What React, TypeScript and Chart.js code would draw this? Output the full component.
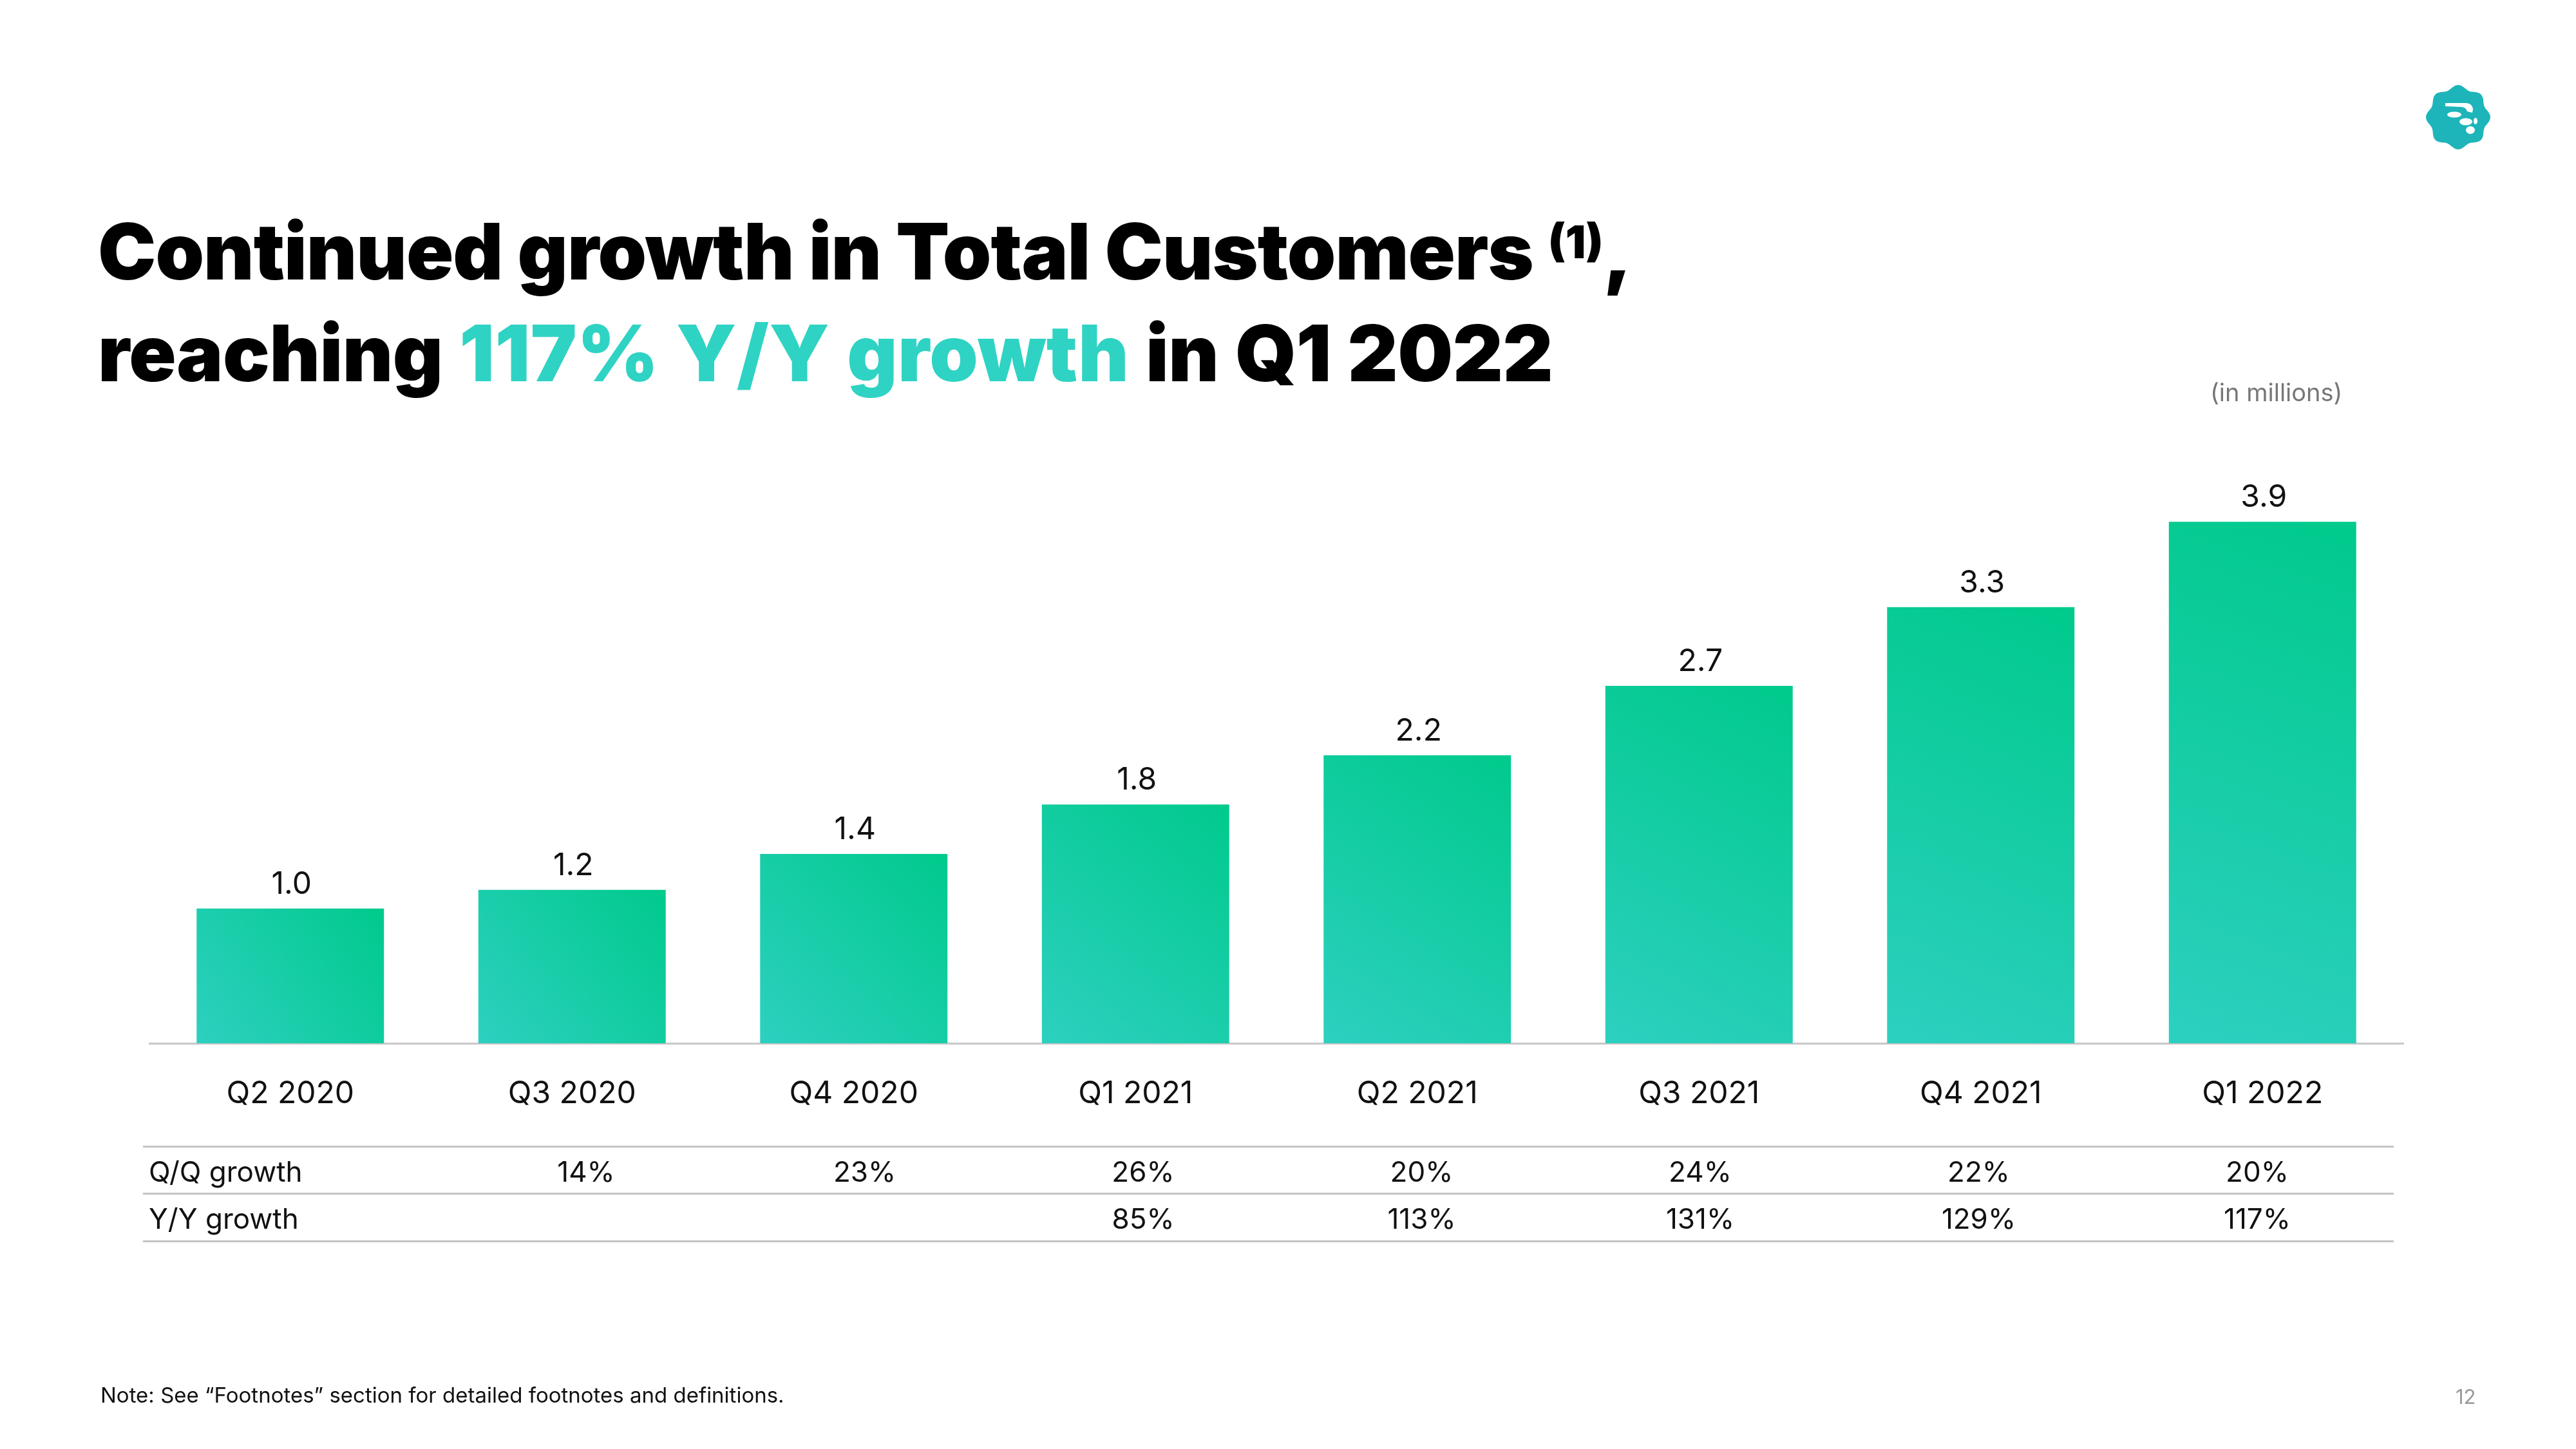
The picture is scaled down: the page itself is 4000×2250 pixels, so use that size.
import React, { useEffect, useRef } from "react";
import { Chart, registerables } from "chart.js";

Chart.register(...registerables);

// ---- Data ----
const categories = ["Q2 2020", "Q3 2020", "Q4 2020", "Q1 2021", "Q2 2021", "Q3 2021", "Q4 2021", "Q1 2022"];
const totalCustomers = [1.01, 1.15, 1.42, 1.79, 2.16, 2.68, 3.27, 3.91];
const customerLabels = ["1.0", "1.2", "1.4", "1.8", "2.2", "2.7", "3.3", "3.9"];
const tableRowLabels = ["Q/Q growth", "Y/Y growth"];
const qqGrowth = ["14%", "23%", "26%", "20%", "24%", "22%", "20%"];
const yyGrowth = ["", "", "85%", "113%", "131%", "129%", "117%"];

const TEAL = "#2fd3c3";
const BAR_BOTTOM = "#2dd0c0";
const BAR_TOP = "#00ca8c";
const BAR_PCT = 0.665;
const BODY_FONT = "Inter, 'Noto Sans', sans-serif";
const TITLE_FONT = "Inter, Roboto, sans-serif";

function barGradient(ctx: any) {
  const chart = ctx.chart;
  if (!chart.chartArea || ctx.dataIndex == null || !ctx.parsed) return BAR_TOP;
  const xs = chart.scales.x;
  const ys = chart.scales.y;
  const xc = xs.getPixelForValue(ctx.dataIndex);
  const half = ((xs.width / categories.length) * BAR_PCT) / 2;
  const top = ys.getPixelForValue(ctx.parsed.y);
  const base = ys.getPixelForValue(0);
  const g = chart.ctx.createLinearGradient(xc - half, base, xc + half, top);
  g.addColorStop(0, BAR_BOTTOM);
  g.addColorStop(1, BAR_TOP);
  return g;
}

const valueLabelPlugin = {
  id: "valueLabels",
  afterDatasetsDraw(chart: any) {
    const ctx = chart.ctx;
    ctx.save();
    ctx.font = "48px Inter";
    ctx.fillStyle = "#111111";
    ctx.textAlign = "center";
    ctx.textBaseline = "alphabetic";
    chart.getDatasetMeta(0).data.forEach((el: any, i: number) => {
      ctx.fillText(customerLabels[i], el.x + 2, el.y - 23);
    });
    ctx.restore();
  },
};

function Logo() {
  const pts: string[] = [];
  for (let i = 0; i <= 360; i += 2) {
    const a = (i * Math.PI) / 180;
    const r = 47 + 3 * Math.cos(8 * a);
    pts.push(`${(r * Math.cos(a)).toFixed(2)},${(r * Math.sin(a)).toFixed(2)}`);
  }
  return (
    <svg
      width={110}
      height={110}
      viewBox="-55 -55 110 110"
      style={{ position: "absolute", left: 3762, top: 127 }}
    >
      <polygon points={pts.join(" ")} fill="#1db5b9" />
      <path d="M-20,-22 L12,-22 Q22,-22 23,-12 L22,-7 L14,-9 Q12,-16 4,-16 L-20,-17 Z" fill="#fff" />
      <ellipse cx={-6} cy={-4} rx={11} ry={4.5} fill="#fff" />
      <ellipse cx={12} cy={7} rx={10} ry={5.5} fill="#fff" />
      <ellipse cx={27} cy={6} rx={3} ry={5} fill="#fff" />
      <ellipse cx={19} cy={20} rx={7} ry={6} fill="#fff" />
    </svg>
  );
}

export default function App() {
  const canvasRef = useRef<HTMLCanvasElement | null>(null);

  useEffect(() => {
    if (!canvasRef.current) return;
    const chart = new Chart(canvasRef.current, {
      type: "bar",
      data: {
        labels: categories,
        datasets: [
          {
            data: totalCustomers,
            backgroundColor: barGradient,
            borderWidth: 0,
            categoryPercentage: 1,
            barPercentage: BAR_PCT,
          },
        ],
      },
      options: {
        responsive: false,
        maintainAspectRatio: false,
        animation: false,
        layout: { padding: { left: 232, right: 268, top: 688, bottom: 527 } },
        plugins: { legend: { display: false }, tooltip: { enabled: false } },
        scales: {
          x: {
            grid: { display: false, drawTicks: false },
            border: { display: true, color: "#c8c8c8", width: 3 },
            ticks: { font: { family: "Inter", size: 48 }, color: "#111111", padding: 50 },
            afterFit: (s: any) => {
              s.height = 103;
            },
          },
          y: { display: false, min: 0, max: 4.5 },
        },
      },
      plugins: [valueLabelPlugin],
    });
    return () => chart.destroy();
  }, []);

  const colStart = 910;
  const colStep = 432.5;

  const line = (top: number) => (
    <div
      style={{ position: "absolute", left: 222, top: top - 1.5, width: 3495, height: 3, background: "#c4c4c4" }}
    />
  );

  const cellStyle = (x: number, top: number): React.CSSProperties => ({
    position: "absolute",
    left: x - 150,
    width: 300,
    top,
    textAlign: "center",
    font: `44px ${BODY_FONT}`,
    lineHeight: 1,
    color: "#111",
    whiteSpace: "nowrap",
  });

  const titleStyle = (top: number): React.CSSProperties => ({
    position: "absolute",
    left: 152,
    top,
    font: `900 121px ${TITLE_FONT}`,
    lineHeight: 1,
    letterSpacing: "-1px",
    color: "#000",
    whiteSpace: "nowrap",
  });

  return (
    <div
      style={{
        position: "absolute",
        left: 0,
        top: 0,
        width: 4000,
        height: 2250,
        background: "#ffffff",
        overflow: "hidden",
      }}
    >
      <canvas ref={canvasRef} width={4000} height={2250} style={{ position: "absolute", left: 0, top: 0 }} />

      <Logo />

      <div style={titleStyle(330)}>
        Continued growth in Total Customers{" "}
        <span style={{ fontSize: 70, fontWeight: 900, verticalAlign: 33, letterSpacing: 0 }}>(1)</span>,
      </div>
      <div style={{ ...titleStyle(488), letterSpacing: "-0.5px", wordSpacing: "2px" }}>
        reaching <span style={{ color: TEAL, letterSpacing: "0.5px" }}>117% Y/Y growth</span> in Q1 2022
      </div>

      <div
        style={{
          position: "absolute",
          left: 3432,
          top: 590,
          font: `38px ${BODY_FONT}`,
          lineHeight: 1,
          color: "#777",
          whiteSpace: "nowrap",
        }}
      >
        (in millions)
      </div>

      {line(1780)}
      {line(1853)}
      {line(1927)}

      <div style={{ ...cellStyle(0, 1797), left: 231, width: "auto", textAlign: "left" }}>{tableRowLabels[0]}</div>
      <div style={{ ...cellStyle(0, 1870), left: 231, width: "auto", textAlign: "left" }}>{tableRowLabels[1]}</div>
      {qqGrowth.map((v, i) => (
        <div key={"qq" + i} style={cellStyle(colStart + i * colStep, 1797)}>
          {v}
        </div>
      ))}
      {yyGrowth.map((v, i) => (
        <div key={"yy" + i} style={cellStyle(colStart + i * colStep, 1870)}>
          {v}
        </div>
      ))}

      <div
        style={{
          position: "absolute",
          left: 156,
          top: 2150,
          font: `33px ${BODY_FONT}`,
          lineHeight: 1,
          color: "#111",
          whiteSpace: "nowrap",
        }}
      >
        Note: See “Footnotes” section for detailed footnotes and definitions.
      </div>
      <div
        style={{
          position: "absolute",
          left: 3813,
          top: 2153,
          font: `31px ${BODY_FONT}`,
          lineHeight: 1,
          color: "#999",
          whiteSpace: "nowrap",
        }}
      >
        12
      </div>
    </div>
  );
}
